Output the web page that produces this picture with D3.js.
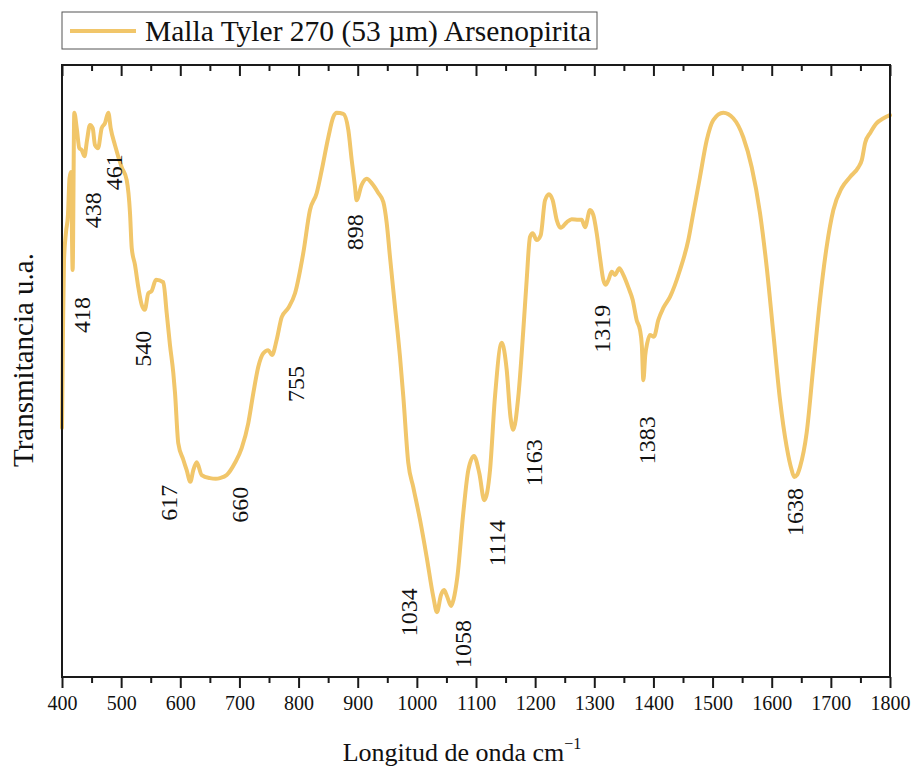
<!DOCTYPE html>
<html>
<head>
<meta charset="utf-8">
<script src="https://cdn.jsdelivr.net/npm/d3@7"></script>
<style>
  html, body { margin: 0; padding: 0; background: #fff; }
  svg { display: block; }
  text { font-family: "Liberation Serif", "Times New Roman", serif; fill: #111; }
</style>
</head>
<body>
<svg id="chart" width="914" height="770"></svg>
<script>
// FTIR spectrum: wavenumber (cm^-1) and transmittance (arbitrary units)
const wavenumber = [
  400, 401.7, 403.4, 406.8, 410.1, 412.7, 415.2, 418, 420.8, 424.9,
  429.3, 433.3, 438, 442.3, 447.3, 451.9, 455.8, 461, 467.1, 472.7,
  478.3, 482.3, 489.6, 500.9, 509.4, 515.0, 517.9, 523.5, 529.0, 534.8,
  540, 545.9, 551.7, 558.9, 571.3, 577.0, 582.6, 588.2, 591.1, 596.6,
  605.1, 610.8, 617, 622.0, 627.8, 636.2, 650.2, 660, 667.1, 678.5,
  692.5, 703.8, 715.0, 723.5, 731.9, 740.4, 748.8, 755, 763.0, 771.5,
  782.6, 794.0, 808.0, 819.3, 830.7, 839.1, 850.3, 858.7, 864.5, 875.6,
  884.1, 889.8, 895.4, 898, 906.7, 915.2, 923.6, 934.8, 943.3, 949.0,
  954.6, 963.0, 971.5, 977.1, 985.5, 994.0, 1005.3, 1016.6, 1027.8, 1034,
  1040.8, 1045.9, 1051.0, 1058, 1061.9, 1068.4, 1078.5, 1087.0, 1096.6, 1105.6,
  1114, 1123.7, 1132.1, 1143.5, 1151.9, 1158.3, 1163, 1171.5, 1180.0, 1185.7,
  1191.3, 1195.9, 1202.6, 1209.4, 1216.7, 1223.4, 1229.7, 1236.4, 1243.2, 1253.4,
  1261.8, 1273.0, 1278.7, 1284.3, 1292.8, 1298.3, 1304.1, 1309.7, 1315.2, 1319,
  1324.0, 1329.5, 1335.0, 1342.3, 1349.1, 1357.5, 1365.0, 1371.7, 1377.3, 1380.4,
  1383, 1386.2, 1389.6, 1394.1, 1400.9, 1408.2, 1416.7, 1428.0, 1444.9, 1459.0,
  1467.4, 1478.7, 1490.1, 1501.2, 1518.1, 1535.0, 1551.9, 1566.2, 1580.2, 1591.5,
  1602.7, 1614.0, 1625.3, 1633.8, 1638, 1642.7, 1647.8, 1659.1, 1670.3, 1681.6,
  1692.9, 1704.2, 1718.4, 1732.5, 1746.6, 1752.4, 1758.0, 1766.5, 1777.5, 1789.1,
  1800
];
const transmittance = [
  40.7, 56.7, 68.1, 72.7, 75.5, 81.5, 82.5, 66.5, 92.2, 89.7,
  86.4, 86.1, 85.1, 87.7, 90.2, 89.7, 86.9, 86.4, 89.7, 90.5,
  92.2, 89.7, 86.9, 83.3, 81.2, 75.8, 70.1, 67.3, 63.7, 60.8,
  60.0, 62.7, 63.1, 64.9, 64.5, 59.5, 54.2, 49.7, 46.4, 38.2,
  35.5, 33.8, 31.9, 33.8, 35.1, 33.0, 32.5, 32.4, 32.5, 33.0,
  35.0, 37.4, 41.5, 46.4, 50.7, 52.9, 53.4, 52.6, 55.1, 58.8,
  60.3, 62.7, 69.3, 76.3, 79.1, 82.8, 88.2, 91.5, 92.2, 92.0,
  89.4, 84.5, 80.1, 77.9, 80.4, 81.4, 80.7, 79.1, 77.6, 74.2,
  68.6, 60.5, 52.3, 45.8, 35.0, 31.0, 25.7, 19.6, 13.1, 10.6,
  13.4, 14.2, 13.2, 11.6, 12.6, 16.3, 26.8, 33.8, 36.1, 33.3,
  28.9, 33.8, 45.8, 54.6, 50.2, 42.5, 40.4, 45.8, 56.7, 64.9,
  71.9, 72.5, 71.4, 72.2, 77.9, 78.9, 77.9, 74.7, 73.4, 74.3,
  74.8, 74.7, 74.7, 73.5, 76.3, 75.5, 72.5, 68.5, 64.9, 64.1,
  64.9, 66.2, 65.7, 66.8, 65.7, 63.7, 61.6, 58.3, 56.7, 54.2,
  48.5, 52.6, 54.6, 55.9, 55.6, 58.3, 60.3, 62.1, 66.5, 71.4,
  75.8, 81.7, 87.7, 91.0, 92.2, 91.3, 88.2, 83.3, 75.8, 67.0,
  56.2, 45.3, 37.6, 33.8, 32.7, 33.0, 34.3, 39.9, 50.7, 61.6,
  70.3, 76.3, 79.9, 81.7, 83.3, 84.5, 87.3, 88.9, 90.5, 91.3,
  91.8
];

// Labelled absorption bands (cm^-1)
const bandPeaks = [418, 438, 461, 540, 617, 660, 755, 898, 1034, 1058, 1114, 1163, 1319, 1383, 1638];

// Axis ticks
const majorTicks = [400, 500, 600, 700, 800, 900, 1000, 1100, 1200, 1300, 1400, 1500, 1600, 1700, 1800];
const minorTicks = [450, 550, 650, 750, 850, 950, 1050, 1150, 1250, 1350, 1450, 1550, 1650, 1750];

const seriesName = "Malla Tyler 270 (53 \u00B5m) Arsenopirita";
const xTitle = "Longitud de onda cm";
const yTitle = "Transmitancia u.a.";

// ---------- layout ----------
const serif = "Liberation Serif, Times New Roman, serif";
const plot = { left: 62, right: 890, top: 65, bottom: 677 };
const lineColor = "#F1C66A";
const frameColor = "#1a1a1a";

// label placement relative to each band's minimum (px)
const labelOffset = {
  418: [9, 45], 438: [8.5, 54], 461: [16, 24], 540: [-2, 39], 617: [-21, 21],
  660: [24, 26], 755: [24, 29], 898: [-1.5, 32], 1034: [-28, 0], 1058: [12, 38],
  1114: [13, 43], 1163: [21, 33], 1319: [-3.5, 44], 1383: [4, 60], 1638: [1, 35]
};

const svg = d3.select("#chart");

const x = d3.scaleLinear().domain([400, 1800]).range([plot.left, plot.right]);
const y = d3.scaleLinear().domain([0, 100]).range([plot.bottom, plot.top]);

const data = wavenumber.map((w, i) => ({ w, t: transmittance[i] }));

// spectrum
const line = d3.line()
  .x(d => x(d.w))
  .y(d => y(d.t))
  .curve(d3.curveMonotoneX);

svg.append("path")
  .datum(data)
  .attr("fill", "none")
  .attr("stroke", lineColor)
  .attr("stroke-width", 4)
  .attr("stroke-linejoin", "round")
  .attr("stroke-linecap", "round")
  .attr("d", line);

// frame
svg.append("rect")
  .attr("x", plot.left).attr("y", plot.top)
  .attr("width", plot.right - plot.left)
  .attr("height", plot.bottom - plot.top)
  .attr("fill", "none")
  .attr("stroke", frameColor)
  .attr("stroke-width", 2);

// bottom axis (outward ticks)
const bottomAxis = d3.axisBottom(x)
  .tickValues(majorTicks)
  .tickSize(11)
  .tickPadding(8)
  .tickFormat(d3.format("d"));
const gb = svg.append("g")
  .attr("transform", `translate(0,${plot.bottom})`)
  .call(bottomAxis);
gb.attr("font-family", serif).attr("font-size", 20);
gb.select(".domain").remove();
gb.selectAll(".tick line").attr("stroke", frameColor).attr("stroke-width", 2);
gb.selectAll(".tick text")
  .attr("font-family", serif)
  .attr("font-size", 20)
  .attr("fill", "#111");

const gbm = svg.append("g")
  .attr("transform", `translate(0,${plot.bottom})`)
  .call(d3.axisBottom(x).tickValues(minorTicks).tickSize(6).tickFormat(""));
gbm.select(".domain").remove();
gbm.selectAll(".tick line").attr("stroke", frameColor).attr("stroke-width", 2);

// top axis (inward ticks)
const gt = svg.append("g")
  .attr("transform", `translate(0,${plot.top})`)
  .call(d3.axisBottom(x).tickValues(majorTicks).tickSize(11).tickFormat(""));
gt.select(".domain").remove();
gt.selectAll(".tick line").attr("stroke", frameColor).attr("stroke-width", 2);
const gtm = svg.append("g")
  .attr("transform", `translate(0,${plot.top})`)
  .call(d3.axisBottom(x).tickValues(minorTicks).tickSize(6).tickFormat(""));
gtm.select(".domain").remove();
gtm.selectAll(".tick line").attr("stroke", frameColor).attr("stroke-width", 2);

// band labels (rotated)
const bandFs = 24;
const lookup = new Map(data.map(d => [d.w, d.t]));
svg.append("g").selectAll("text")
  .data(bandPeaks)
  .join("text")
  .attr("font-family", serif)
  .attr("font-size", bandFs)
  .attr("text-anchor", "middle")
  .attr("transform", p => {
    const off = labelOffset[p] || [0, 30];
    const cx = x(p) + off[0] + bandFs * 0.33;
    const cy = y(lookup.get(p)) + off[1];
    return `translate(${cx},${cy}) rotate(-90)`;
  })
  .text(p => p);

// axis titles
svg.append("text")
  .attr("x", 462).attr("y", 761)
  .attr("text-anchor", "middle")
  .attr("font-family", serif)
  .attr("font-size", 26)
  .call(t => {
    t.append("tspan").text(xTitle);
    t.append("tspan").attr("font-size", 16).attr("dy", -12).text("\u22121");
  });

svg.append("text")
  .attr("transform", "translate(33,360) rotate(-90)")
  .attr("text-anchor", "middle")
  .attr("font-family", serif)
  .attr("font-size", 29)
  .text(yTitle);

// legend
const lg = svg.append("g");
lg.append("rect")
  .attr("x", 62).attr("y", 12).attr("width", 535).attr("height", 37)
  .attr("fill", "#fff").attr("stroke", "#555").attr("stroke-width", 1);
lg.append("line")
  .attr("x1", 70).attr("x2", 136).attr("y1", 31).attr("y2", 31)
  .attr("stroke", lineColor).attr("stroke-width", 4);
lg.append("text")
  .attr("x", 145).attr("y", 41)
  .attr("font-family", serif)
  .attr("font-size", 29.5)
  .text(seriesName);
</script>
</body>
</html>
